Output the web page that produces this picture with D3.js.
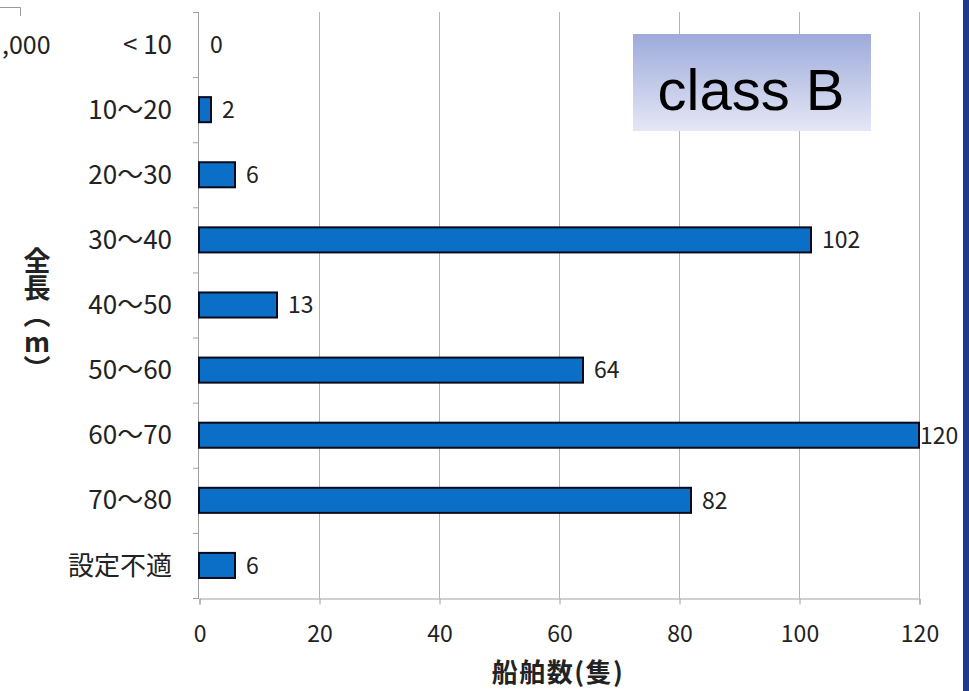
<!DOCTYPE html>
<html>
<head>
<meta charset="utf-8">
<script src="https://cdn.jsdelivr.net/npm/d3@7"></script>
<style>
  html, body { margin: 0; padding: 0; background: #ffffff; }
  svg { display: block; }
</style>
</head>
<body>
<svg id="chart" width="969" height="691"></svg>
<script>
// Ship length classes and ship counts
const categories = ["< 10", "10～20", "20～30", "30～40", "40～50", "50～60", "60～70", "70～80", "設定不適"];
const counts = [0, 2, 6, 102, 13, 64, 120, 82, 6];
const xTicks = [0, 20, 40, 60, 80, 100, 120];
const yTitle = "全長（m）";
const xTitle = "船舶数(隻)";
const boxLabel = "class B";

const FONT = "'Noto Sans CJK JP', 'Noto Sans', sans-serif";
const svg = d3.select("#chart");
const W = 969, H = 691;
const margin = { left: 199, right: 50, top: 12, bottom: 93 };
const plotW = W - margin.left - margin.right;
const plotH = H - margin.top - margin.bottom;

const x = d3.scaleLinear().domain([0, 120]).range([margin.left, margin.left + plotW]);
const y = d3.scaleBand().domain(categories).range([margin.top, margin.top + plotH]).paddingInner(0.615).paddingOuter(0.3075);
const yEdges = d3.scaleLinear().domain([0, categories.length]).range([margin.top, margin.top + plotH]);

// right frame strip
svg.append("rect").attr("x", 963).attr("y", 0).attr("width", 6).attr("height", H).attr("fill", "#203b8c");

// fragment of the neighbouring panel at top-left
svg.append("path").attr("d", "M0,7.5 H20.5 V16").attr("fill", "none").attr("stroke", "#999").attr("stroke-width", 1);
svg.append("text").attr("x", 2).attr("y", 54).style("font-family", FONT).style("font-size", "25px").attr("fill", "#222").text(",000");

// vertical gridlines
svg.append("g").selectAll("line").data(xTicks.slice(1)).join("line")
  .attr("x1", d => x(d) + 0.5).attr("x2", d => x(d) + 0.5)
  .attr("y1", margin.top).attr("y2", margin.top + plotH)
  .attr("stroke", "#b4b4b4").attr("stroke-width", 1);

// x axis
const xAxis = svg.append("g").attr("transform", `translate(0.5,${margin.top + plotH + 0.5})`)
  .call(d3.axisBottom(x).tickValues(xTicks).tickSize(6).tickPadding(21));
xAxis.select(".domain").attr("stroke", "#a0a0a0");
xAxis.selectAll(".tick line").attr("stroke", "#a0a0a0");
xAxis.selectAll(".tick text").attr("fill", "#222")
  .style("font-family", FONT).style("font-size", "23px");

// y axis line and boundary ticks
const yAx = svg.append("g");
yAx.append("line").attr("x1", margin.left - 0.5).attr("x2", margin.left - 0.5)
  .attr("y1", margin.top).attr("y2", margin.top + plotH).attr("stroke", "#a0a0a0");
yAx.selectAll("line.t").data(d3.range(categories.length + 1)).join("line").attr("class", "t")
  .attr("x1", margin.left - 6).attr("x2", margin.left)
  .attr("y1", d => yEdges(d) + 0.5).attr("y2", d => yEdges(d) + 0.5)
  .attr("stroke", "#a0a0a0");
yAx.selectAll("text").data(categories).join("text")
  .attr("x", 172).attr("y", d => y(d) + y.bandwidth() / 2)
  .attr("dy", "0.35em").attr("text-anchor", "end")
  .style("font-family", FONT).style("font-size", "26px").attr("fill", "#222").text(d => d);

// bars
const data = categories.map((c, i) => ({ c, v: counts[i] }));
svg.append("g").selectAll("rect").data(data.filter(d => d.v > 0)).join("rect")
  .attr("x", x(0)).attr("y", d => y(d.c))
  .attr("width", d => x(d.v) - x(0)).attr("height", y.bandwidth())
  .attr("fill", "#0b6fc8").attr("stroke", "#0a0a1a").attr("stroke-width", 2);

// value labels
svg.append("g").selectAll("text").data(data).join("text")
  .attr("x", d => Math.min(x(d.v) + 11, 920))
  .attr("y", d => y(d.c) + y.bandwidth() / 2)
  .attr("dy", "0.36em").style("font-family", FONT).style("font-size", "23px").attr("fill", "#222")
  .text(d => d.v);

// axis titles
svg.append("text").attr("x", 558).attr("y", 682).attr("text-anchor", "middle")
  .style("font-family", FONT).style("font-size", "26px").style("font-weight", "bold").style("letter-spacing", "1.5px")
  .attr("fill", "#222").text(xTitle);
svg.append("text").attr("x", 37).attr("y", 247)
  .style("writing-mode", "vertical-rl").style("text-orientation", "upright")
  .style("font-family", FONT).style("font-size", "27px").style("font-weight", "bold").attr("fill", "#222").text(yTitle);

// class label box
const grad = svg.append("defs").append("linearGradient").attr("id", "boxGrad")
  .attr("x1", 0).attr("x2", 0).attr("y1", 0).attr("y2", 1);
grad.append("stop").attr("offset", 0).attr("stop-color", "#9eaadb");
grad.append("stop").attr("offset", 1).attr("stop-color", "#e4e7f5");
svg.append("rect").attr("x", 633).attr("y", 34).attr("width", 238).attr("height", 97).attr("fill", "url(#boxGrad)");
svg.append("text").attr("x", 751).attr("y", 110).attr("text-anchor", "middle")
  .style("font-family", "'Liberation Sans', Arial, sans-serif").style("font-size", "58px").attr("fill", "#000")
  .text(boxLabel);
</script>
</body>
</html>
